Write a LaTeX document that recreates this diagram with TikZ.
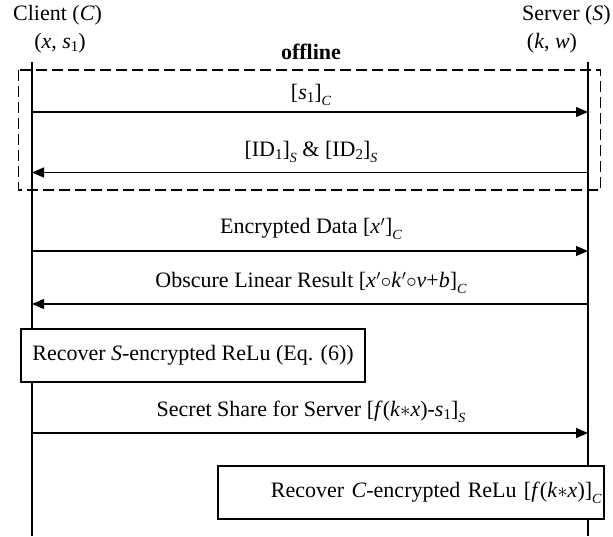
\documentclass[tikz,border=0pt]{standalone}
\usepackage{fontspec}
\setmainfont{Liberation Serif}
\usetikzlibrary{arrows.meta}
\newcommand{\lsub}[1]{\raisebox{-0.6ex}{\fontsize{14}{14}\selectfont\itshape #1}}
\newcommand{\nsub}[1]{\raisebox{-0.3ex}{\fontsize{15}{15}\selectfont #1}}
\newcommand{\party}[1]{\textit{#1}}
\newcommand{\prm}{\kern0.5pt$'$}
\begin{document}
\begin{tikzpicture}[x=1pt,y=-1pt,
  txt/.style={font=\fontsize{22}{26}\selectfont, inner sep=0pt},
  life/.style={line width=1.3pt},
  msg/.style={line width=1.2pt, -{Triangle[length=12pt,width=10pt]}},
  actbox/.style={draw, line width=1.3pt, fill=white, font=\fontsize{22}{26}\selectfont, inner sep=0pt},
  offbox/.style={draw, line width=1.3pt, dash pattern=on 11pt off 5pt}]
\useasboundingbox (0,0) rectangle (613,536);
% headers
\node[txt, anchor=west] (client) at (13,15) {Client (\party{C})};
\node[txt, anchor=east] (server) at (611,15) {Server (\party{S})};
\node[txt] (cvars) at (60,43) {(\textit{x}, \textit{s}\nsub{1})};
\node[txt] (svars) at (552,43) {(\textit{k}, \textit{w})};
\node[txt, font=\fontsize{22}{26}\selectfont\bfseries] (offl) at (311,52) {offline};
% lifelines
\coordinate (lt) at (32,62); \coordinate (lb) at (32,536);
\coordinate (rt) at (588,62); \coordinate (rb) at (588,536);
\draw[life] (lt) -- (lb);
\draw[life] (rt) -- (rb);
% offline box
\draw[offbox] (18.5,70) rectangle (600.5,190);
% messages
\coordinate (l1) at (32,112); \coordinate (r1) at (588,112);
\draw[msg] (l1) -- (r1);
\node[txt] (m1) at (311,95) {[\textit{s}\nsub{1}]\lsub{C}};
\coordinate (l2) at (32,172.5); \coordinate (r2) at (588,172.5);
\draw[msg] (r2) -- (l2);
\node[txt] (m2) at (311,152) {[ID\nsub{1}]\lsub{S} \& [ID\nsub{2}]\lsub{S}};
\coordinate (l3) at (32,251); \coordinate (r3) at (588,251);
\draw[msg] (l3) -- (r3);
\node[txt] (m3) at (311,229) {Encrypted Data [\textit{x}\prm]\lsub{C}};
\coordinate (l4) at (32,304); \coordinate (r4) at (588,304);
\draw[msg] (r4) -- (l4);
\node[txt] (m4) at (311,283) {Obscure Linear Result [\textit{x}\prm$\circ$\textit{k}\prm$\circ$\textit{v}+\textit{b}]\lsub{C}};
% box 1
\node[actbox, minimum width=344pt, minimum height=53pt] (b1) at (193,355.5) {Recover \party{S}-encrypted ReLu (Eq. (6))};
\coordinate (l5) at (32,433); \coordinate (r5) at (588,433);
\draw[msg] (l5) -- (r5);
\node[txt] (m5) at (311,412) {Secret Share for Server [\textit{f}(\textit{k}$\ast$\textit{x})-\textit{s}\nsub{1}]\lsub{S}};
% box 2
\node[actbox, minimum width=386pt, minimum height=53pt, text width=381pt, align=right] (b2) at (411,492.5) {Recover \party{C}-encrypted ReLu [\textit{f}(\textit{k}$\ast$\textit{x})]\lsub{C}};
\end{tikzpicture}
\end{document}
